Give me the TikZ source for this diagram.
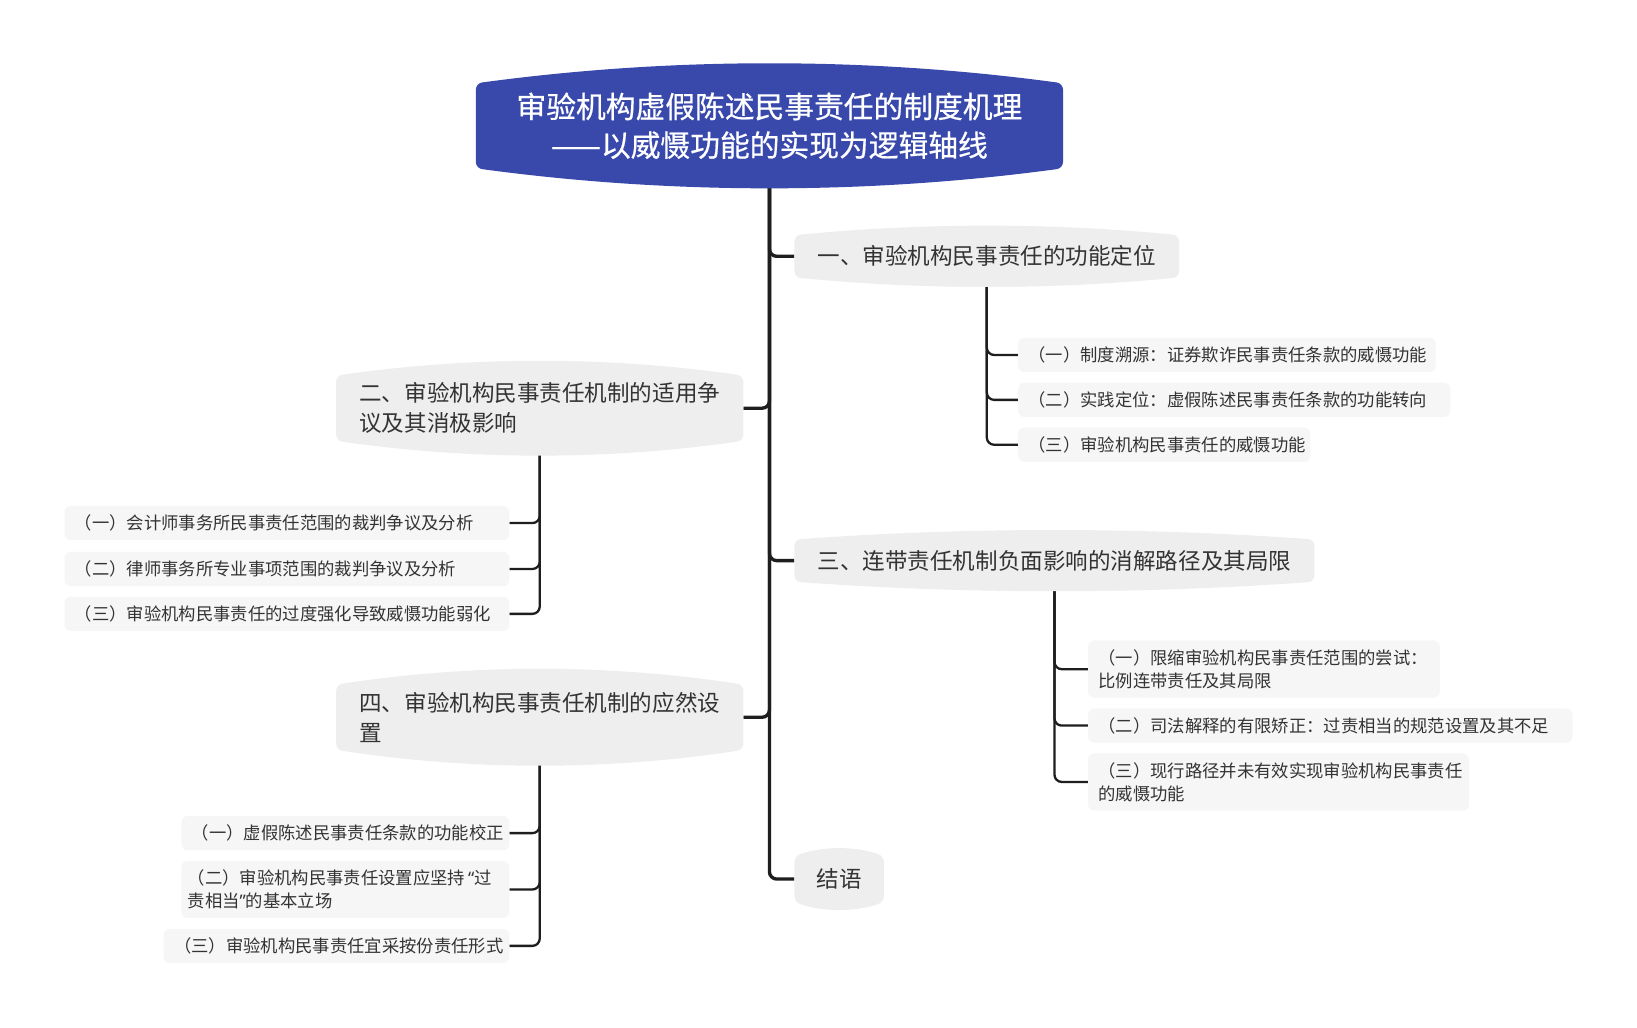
\documentclass[tikz,border=0pt]{standalone}
\usepackage{fontspec}
\setmainfont{Noto Sans CJK SC}
\newfontfamily\rootfamily{Noto Sans CJK SC}[FakeBold=0.6]
\newfontfamily\quotefont{Noto Sans}
\usetikzlibrary{backgrounds,calc}

\definecolor{rootblue}{RGB}{57,73,171}
\definecolor{topicgray}{RGB}{238,238,238}
\definecolor{subgray}{RGB}{246,246,246}
\definecolor{textgray}{RGB}{51,51,51}
\definecolor{linegray}{RGB}{30,30,30}

\newcommand{\rootfont}{\rootfamily\fontsize{28.5pt}{37pt}\selectfont}
\newcommand{\topicfont}{\fontsize{21.6pt}{29pt}\selectfont}
\newcommand{\subfont}{\fontsize{16.6pt}{22pt}\selectfont}

% bulged box behind a topic node: node, colour, bulge
\newcommand{\bulgebox}[3]{%
  \fill[#2, rounded corners=6pt] (#1.west) -- (#1.north west)
    .. controls ($(#1.north west)!.333!(#1.north east)+(0pt,1.333*#3)$)
    and ($(#1.north west)!.667!(#1.north east)+(0pt,1.333*#3)$) .. (#1.north east)
    -- (#1.south east)
    .. controls ($(#1.south west)!.667!(#1.south east)-(0pt,1.333*#3)$)
    and ($(#1.south west)!.333!(#1.south east)-(0pt,1.333*#3)$) .. (#1.south west)
    -- cycle;}

\tikzset{
  roottopic/.style={font=\rootfont, text=white, align=center,
    minimum width=562pt, minimum height=81pt, inner sep=0pt},
  topic/.style={font=\topicfont, text=textgray, align=left,
    inner xsep=22pt, inner ysep=0pt},
  subtopic/.style={font=\subfont, text=textgray, align=left, fill=subgray,
    rounded corners=6pt, inner xsep=10pt, inner ysep=8.5pt},
  mainline/.style={draw=linegray, line width=3.2pt, rounded corners=7pt},
  subline/.style={draw=linegray, line width=2.2pt, rounded corners=7pt},
}

\begin{document}
\begin{tikzpicture}[x=1pt, y=-1pt]
    \useasboundingbox (0,0) rectangle (1568,984);

    % Central topic
    \node[roottopic] (root) at (737,120.5) {审验机构虚假陈述民事责任的制度机理\\——以威慑功能的实现为逻辑轴线};

    % Main topics
    \node[topic, anchor=west, minimum height=40pt] (n1) at (761,245.5) {一、审验机构民事责任的功能定位};
    \node[topic, anchor=east, minimum height=62pt] (n2) at (712,391) {二、审验机构民事责任机制的适用争\\议及其消极影响};
    \node[topic, anchor=west, minimum height=40pt] (n3) at (761,537) {三、连带责任机制负面影响的消解路径及其局限};
    \node[topic, anchor=east, minimum height=62pt] (n4) at (712,687) {四、审验机构民事责任机制的应然设\\置};
    \node[topic, anchor=west, minimum height=44pt, inner xsep=21pt] (n5) at (761,842) {结语};

    % Subtopics of n1
    \node[subtopic, anchor=west, text width=380pt] (c11) at (975,340) {（一）制度溯源：证券欺诈民事责任条款的威慑功能};
    \node[subtopic, anchor=west, text width=394pt] (c12) at (975,383) {（二）实践定位：虚假陈述民事责任条款的功能转向};
    \node[subtopic, anchor=west, text width=260pt] (c13) at (975,426) {（三）审验机构民事责任的威慑功能};

    % Subtopics of n2
    \node[subtopic, anchor=east, text width=406pt] (c21) at (488,501) {（一）会计师事务所民事责任范围的裁判争议及分析};
    \node[subtopic, anchor=east, text width=406pt] (c22) at (488,545) {（二）律师事务所专业事项范围的裁判争议及分析};
    \node[subtopic, anchor=east, text width=406pt] (c23) at (488,588) {（三）审验机构民事责任的过度强化导致威慑功能弱化};

    % Subtopics of n3
    \node[subtopic, anchor=west, text width=317pt] (c31) at (1042,641) {（一）限缩审验机构民事责任范围的尝试：\\比例连带责任及其局限};
    \node[subtopic, anchor=west, text width=444pt] (c32) at (1042,695) {（二）司法解释的有限矫正：过责相当的规范设置及其不足};
    \node[subtopic, anchor=west, text width=345pt] (c33) at (1042,749) {（三）现行路径并未有效实现审验机构民事责任\\的威慑功能};

    % Subtopics of n4
    \node[subtopic, anchor=east, text width=294pt] (c41) at (488,798) {（一）虚假陈述民事责任条款的功能校正};
    \node[subtopic, anchor=east, text width=302pt, inner xsep=6pt] (c42) at (488,852) {（二）审验机构民事责任设置应坚持\hspace{3pt}{\quotefont“}过\\责相当{\quotefont”}的基本立场};
    \node[subtopic, anchor=east, text width=311pt] (c43) at (488,906) {（三）审验机构民事责任宜采按份责任形式};

    \begin{pgfonlayer}{background}
        \fill[white] (0,0) rectangle (1568,984);
        % Branches
        \foreach \t in {n1,n2,n3,n4,n5}
            \draw[mainline] (root) |- (\t);
        \foreach \c in {c11,c12,c13}
            \draw[subline] (n1) |- (\c);
        \foreach \c in {c21,c22,c23}
            \draw[subline] (n2) |- (\c);
        \foreach \c in {c31,c32,c33}
            \draw[subline] (n3) |- (\c);
        \foreach \c in {c41,c42,c43}
            \draw[subline] (n4) |- (\c);
        % Topic shapes
        \bulgebox{root}{rootblue}{19pt}
        \bulgebox{n1}{topicgray}{9pt}
        \bulgebox{n2}{topicgray}{14pt}
        \bulgebox{n3}{topicgray}{9pt}
        \bulgebox{n4}{topicgray}{15pt}
        \bulgebox{n5}{topicgray}{7pt}
    \end{pgfonlayer}
\end{tikzpicture}
\end{document}
